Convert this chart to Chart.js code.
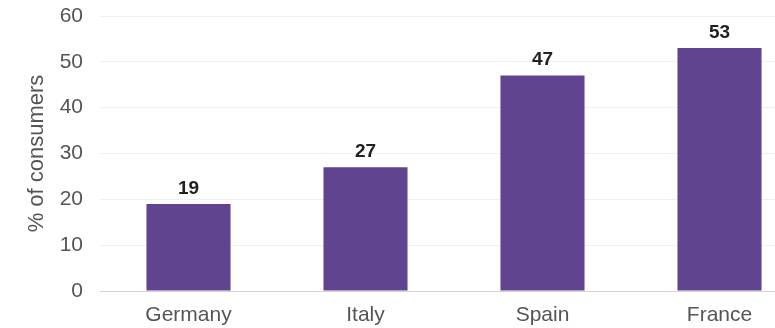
<!DOCTYPE html>
<html>
<head>
<meta charset="utf-8">
<script src="https://cdn.jsdelivr.net/npm/chart.js@4"></script>
<style>
  html, body { margin: 0; padding: 0; background: #fff; overflow: hidden; }
  #wrap { width: 775px; height: 328px; overflow: hidden; }
</style>
</head>
<body>
<div id="wrap"><canvas id="consumerChart" width="808" height="328"></canvas></div>
<script>
// Chart data
const countries = ['Germany', 'Italy', 'Spain', 'France'];
const shareOfConsumers = [19, 27, 47, 53];
const yTicks = [0, 10, 20, 30, 40, 50, 60];

const fontFamily = '"Liberation Sans", Arial, sans-serif';

// Draw the value above each bar
const valueLabels = {
    id: 'valueLabels',
    afterDatasetsDraw(chart) {
        const ctx = chart.ctx;
        const meta = chart.getDatasetMeta(0);
        ctx.save();
        ctx.font = 'bold 19px ' + fontFamily;
        ctx.fillStyle = '#222';
        ctx.textAlign = 'center';
        ctx.textBaseline = 'bottom';
        meta.data.forEach((bar, i) => {
            ctx.fillText(shareOfConsumers[i], bar.x, bar.y - 6);
        });
        ctx.restore();
    }
};

const ctx = document.getElementById('consumerChart').getContext('2d');
const consumerChart = new Chart(ctx, {
    type: 'bar',
    data: {
        labels: countries,
        datasets: [{
            data: shareOfConsumers,
            backgroundColor: '#60448f',
            borderWidth: 0,
            barPercentage: 0.475,
            categoryPercentage: 1
        }]
    },
    options: {
        responsive: false,
        animation: false,
        layout: { padding: { top: 16, right: 0, bottom: 0, left: 0 } },
        plugins: {
            legend: { display: false },
            tooltip: { enabled: false }
        },
        scales: {
            x: {
                grid: { display: false },
                border: { display: false },
                ticks: {
                    color: '#555',
                    font: { size: 21, family: fontFamily },
                    padding: 4
                },
                afterFit: scale => { scale.height = 37; }
            },
            y: {
                min: 0,
                max: 60,
                afterBuildTicks: axis => { axis.ticks = yTicks.map(v => ({ value: v })); },
                border: { display: false },
                grid: {
                    drawTicks: false,
                    color: c => c.tick.value === 0 ? '#d4d4d4' : '#f0f0f0',
                    lineWidth: 1
                },
                ticks: {
                    color: '#555',
                    font: { size: 21, family: fontFamily },
                    padding: 17
                },
                title: {
                    display: true,
                    text: '% of consumers',
                    color: '#555',
                    font: { size: 22, family: fontFamily },
                    padding: { top: 24, bottom: 0 }
                },
                afterFit: scale => {
                    scale.width = 100;
                    scale.paddingTop = 0;
                    scale.paddingBottom = 0;
                }
            }
        }
    },
    plugins: [valueLabels]
});
</script>
</body>
</html>
